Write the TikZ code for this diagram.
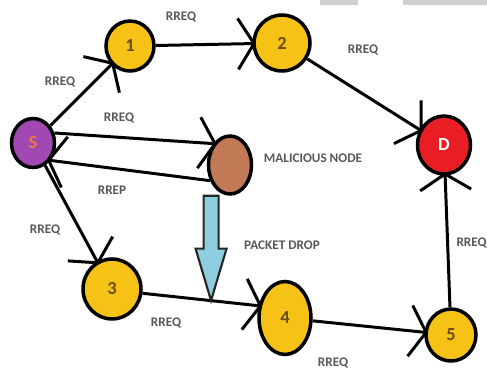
\documentclass[tikz,border=0pt]{standalone}
\usepackage{fontspec}
\setmainfont{Carlito}
\usetikzlibrary{arrows.meta,shapes.geometric,calc}
\definecolor{nodeyellow}{RGB}{246,194,22}
\definecolor{srcpurple}{RGB}{162,72,178}
\definecolor{srclabel}{RGB}{236,122,70}
\definecolor{dstred}{RGB}{232,30,36}
\definecolor{malbrown}{RGB}{194,121,86}
\definecolor{droplight}{RGB}{142,204,224}
\definecolor{labelgray}{RGB}{88,88,88}
\definecolor{numbrown}{RGB}{105,78,22}
\definecolor{bargray}{RGB}{208,208,208}
\begin{document}
\begin{tikzpicture}[x=0.02cm,y=-0.02cm,
  peer/.style={ellipse,draw=black,line width=2pt,inner sep=0pt,
               font=\fontsize{10.5}{12}\selectfont\bfseries},
  hop/.style={peer,fill=nodeyellow,text=numbrown},
  link/.style={line width=1.7pt,shorten >=-2pt,
               -{Straight Barb[length=0.32cm,width=1.02cm]}},
  msg/.style={font=\fontsize{7.5}{8}\selectfont\bfseries,text=labelgray,inner sep=0pt}]
  \path[use as bounding box,fill=white] (0,0) rectangle (487,372);
  % bars at the top edge
  \fill[bargray] (320,0) rectangle (358,5);
  \fill[bargray] (403,0) rectangle (487,5);
  % nodes
  \node[peer,fill=srcpurple,text=srclabel,minimum width=0.86cm,minimum height=0.98cm] (S) at (33,143) {S};
  \node[hop,minimum width=0.96cm,minimum height=1cm] (n1) at (130,46) {1};
  \node[hop,minimum width=1.12cm,minimum height=1.12cm] (n2) at (282,43) {2};
  \node[peer,fill=dstred,text=white,minimum width=1.06cm,minimum height=1.16cm] (D) at (444,145) {D};
  \node[peer,fill=malbrown,minimum width=0.86cm,minimum height=1.16cm] (mal) at (230,165) {};
  \node[hop,minimum width=1.16cm,minimum height=1.2cm] (n3) at (112,289) {3};
  \node[hop,minimum width=1.04cm,minimum height=1.46cm] (n4) at (285,318) {4};
  \node[hop,minimum width=1cm,minimum height=1.04cm] (n5) at (451,335) {5};
  % route request / reply
  \draw[link] (S) -- (n1);
  \draw[link] (n1) -- (n2);
  \draw[link] (n2) -- (D);
  \draw[link] (S.25) -- (mal.128);
  \draw[link] (mal.218) -- (S.-45);
  \draw[link] (S) -- (n3);
  \draw[link] (n3.-8) -- (n4.155) coordinate[pos=0.59] (drop);
  \draw[link] (n4) -- (n5);
  \draw[link] (n5) -- (D);
  % packet drop arrow
  \coordinate (droptop) at (drop |- mal.south);
  \draw[line width=1.2pt,draw=black!85,fill=droplight]
    ($(droptop)+(-7.5,0)$) -- ($(drop)+(-7.5,-52)$) -- ($(drop)+(-15.5,-52)$)
    -- (drop) -- ($(drop)+(15.5,-52)$) -- ($(drop)+(7.5,-52)$)
    -- ($(droptop)+(7.5,0)$) -- cycle;
  % labels
  \node[msg] (tS1) at (60,82) {RREQ};
  \node[msg] (t12) at (181,17) {RREQ};
  \node[msg] (t2D) at (363,50) {RREQ};
  \node[msg] (tSM) at (119,118) {RREQ};
  \node[msg] (tMS) at (112,190) {RREP};
  \node[msg] (tS3) at (45,230) {RREQ};
  \node[msg] (t34) at (166,323) {RREQ};
  \node[msg] (t45) at (333,363) {RREQ};
  \node[msg,anchor=east] (t5D) at (487,243) {RREQ};
  \node[msg] (tmal) at (313,158) {MALICIOUS NODE};
  \node[msg] (tdrop) at (282,245) {PACKET DROP};
\end{tikzpicture}
\end{document}
